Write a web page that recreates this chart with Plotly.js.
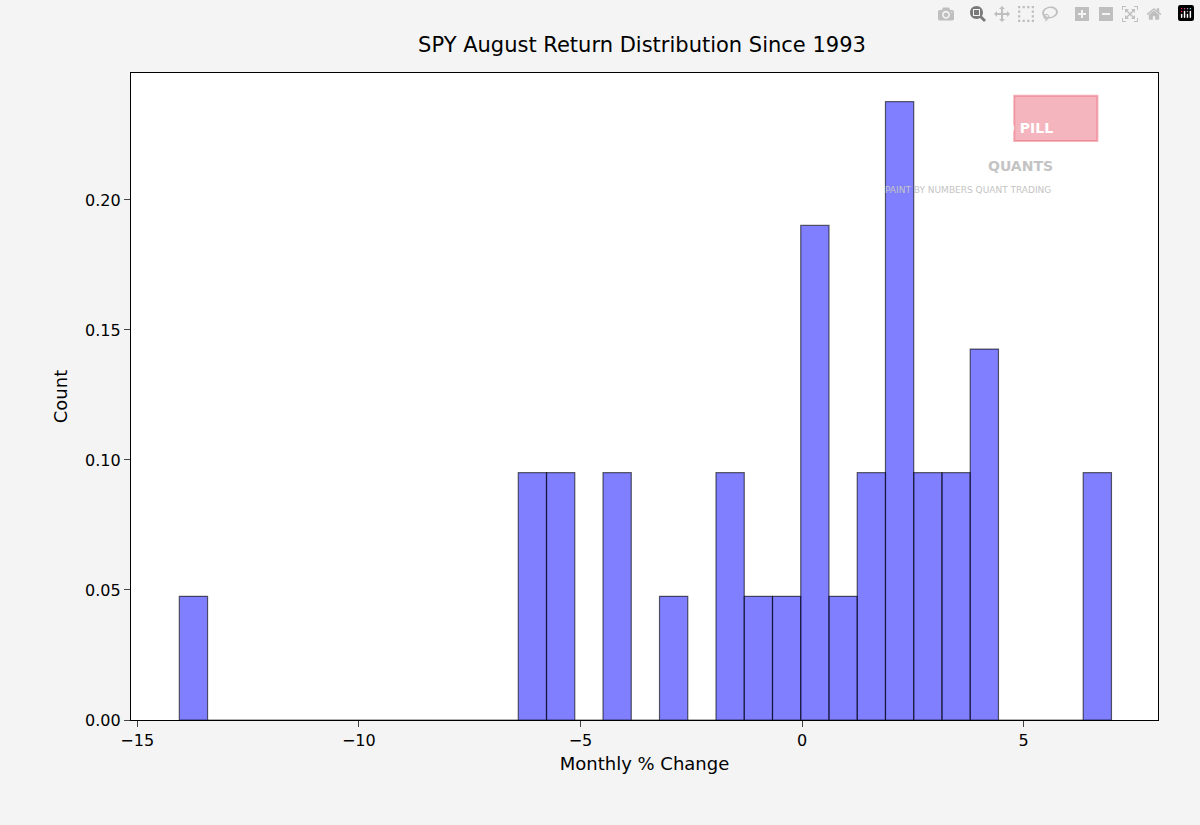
<!DOCTYPE html>
<html>
<head>
<meta charset="utf-8">
<script src="https://cdn.plot.ly/plotly-3.0.1.min.js"></script>
<style>body{margin:0;background:#f4f4f4}#chart{width:1200px;height:825px}</style>
</head>
<body>
<div id="chart"></div>
<script>
// histogram of 33 August returns, 33 bins
const firstEdge = -14.05;
const lastEdge = 6.98;
const binCounts = [1,0,0,0,0,0,0,0,0,0,0,0,2,2,0,2,0,1,0,2,1,1,4,1,2,5,2,2,3,0,0,0,2];
const nObs = 33;

const binWidth = (lastEdge - firstEdge) / binCounts.length;
const centers = binCounts.map((_, i) => firstEdge + binWidth * (i + 0.5));
const density = binCounts.map(c => c / (nObs * binWidth));

Plotly.newPlot('chart', [{
    type: 'bar',
    x: centers,
    y: density,
    width: binWidth,
    marker: { color: 'rgba(0,0,255,0.5)', line: { color: 'rgba(0,0,0,0.6)', width: 1.2 } },
    hoverinfo: 'x+y'
}], {
    width: 1200, height: 825,
    paper_bgcolor: '#f4f4f4',
    plot_bgcolor: '#ffffff',
    margin: { l: 131, r: 42, t: 73, b: 105 },
    font: { family: 'DejaVu Sans', size: 16, color: '#000' },
    showlegend: false,
    title: { text: 'SPY August Return Distribution Since 1993', x: 0.535, xanchor: 'center', y: 0.955, font: { size: 21 } },
    xaxis: {
        range: [-15.14, 8.03], tickvals: [-15, -10, -5, 0, 5], ticktext: ['\u221215', '\u221210', '\u22125', '0', '5'],
        ticks: 'outside', ticklen: 6, showgrid: false, zeroline: false,
        showline: true, linecolor: '#000', linewidth: 1.2, mirror: true,
        title: { text: 'Monthly % Change', font: { size: 18 }, standoff: 8 }
    },
    yaxis: {
        range: [0, 0.2488], tickvals: [0, 0.05, 0.1, 0.15, 0.2], tickformat: '.2f',
        ticks: 'outside', ticklen: 6, showgrid: false, zeroline: false,
        showline: true, linecolor: '#000', linewidth: 1.2, mirror: true,
        title: { text: 'Count', font: { size: 18 }, standoff: 12 }
    },
    shapes: [{
        type: 'rect', xref: 'paper', yref: 'paper', x0: 0.86, x1: 0.941, y0: 0.895, y1: 0.965,
        fillcolor: 'rgba(230,90,110,0.45)', line: { color: 'rgba(230,90,110,0.45)', width: 2 }
    }],
    annotations: [
        { xref: 'paper', yref: 'paper', x: 0.9, y: 0.93, text: '<b>RED PILL</b>', showarrow: false, font: { size: 14, color: '#fff' } },
        { xref: 'paper', yref: 'paper', x: 0.9, y: 0.872, text: '<b>QUANTS</b>', showarrow: false, font: { size: 14, color: '#c4c4c4' } },
        { xref: 'paper', yref: 'paper', x: 0.898, y: 0.83, text: 'PAINT BY NUMBERS QUANT TRADING', showarrow: false, font: { size: 9, color: '#c4c4c4' } }
    ]
});
</script>
</body>
</html>
